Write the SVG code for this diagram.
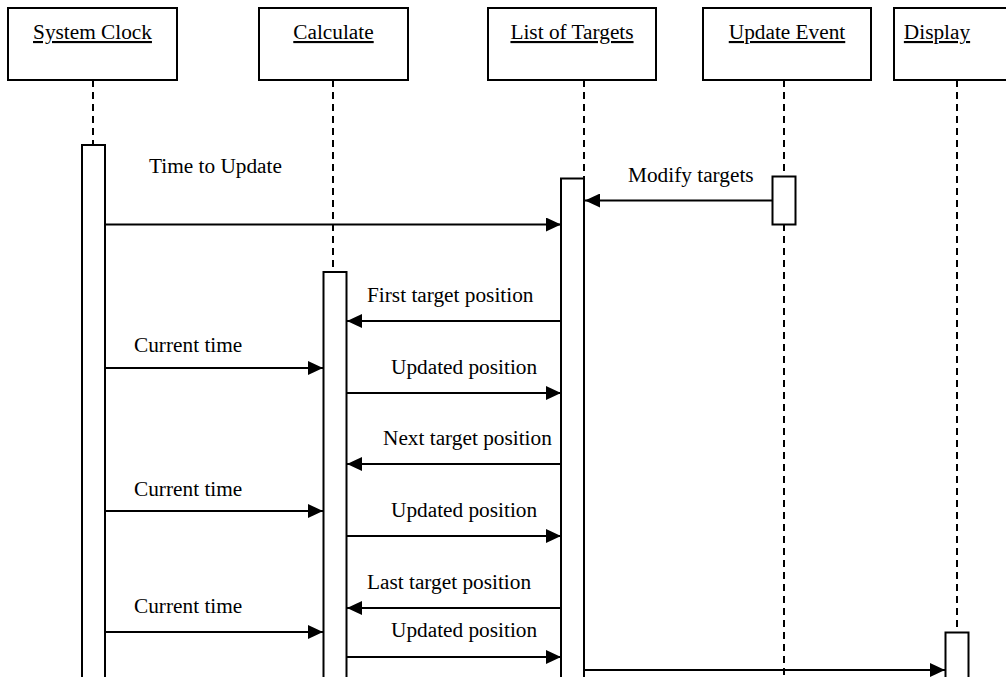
<svg xmlns="http://www.w3.org/2000/svg" width="1006" height="677" viewBox="0 0 1006 677">
<style>
.box{fill:#fff;stroke:#000;stroke-width:2}
.act{fill:#fff;stroke:#000;stroke-width:2}
.life{stroke:#000;stroke-width:2;stroke-dasharray:7 5;fill:none}
.msg{stroke:#000;stroke-width:1.8;fill:none;marker-end:url(#ah)}
text{font-family:"Liberation Serif","Times New Roman",serif;font-size:21.3px;fill:#000}
.name{text-anchor:middle;text-decoration:underline}
</style>
<defs>
<marker id="ah" markerWidth="16" markerHeight="14" refX="15" refY="7" orient="auto" markerUnits="userSpaceOnUse">
<path d="M0,0 L15,7 L0,14 Z" fill="#000"/>
</marker>
</defs>
<rect width="1006" height="677" fill="#fff"/>
<g id="lifelines">
<line class="life" x1="93" y1="80" x2="93" y2="145"/>
<line class="life" x1="333" y1="80" x2="333" y2="272"/>
<line class="life" x1="584" y1="80" x2="584" y2="178"/>
<line class="life" x1="784" y1="80" x2="784" y2="677"/>
<line class="life" x1="957" y1="80" x2="957" y2="632"/>
</g>
<g id="n-system-clock">
<rect class="box" x="8" y="8" width="169" height="72"/>
<text class="name" x="92.5" y="39">System Clock</text>
<rect class="act" x="82" y="145" width="23" height="560"/>
</g>
<g id="n-calculate">
<rect class="box" x="259" y="8" width="149" height="72"/>
<text class="name" x="333.5" y="39">Calculate</text>
<rect class="act" x="323.5" y="272" width="23" height="440"/>
</g>
<g id="n-list-of-targets">
<rect class="box" x="488" y="8" width="168" height="72"/>
<text class="name" x="572" y="39">List of Targets</text>
<rect class="act" x="561" y="178.5" width="23" height="530"/>
</g>
<g id="n-update-event">
<rect class="box" x="703" y="8" width="168" height="72"/>
<text class="name" x="787" y="39">Update Event</text>
<rect class="act" x="772.5" y="176.5" width="23" height="48"/>
</g>
<g id="n-display">
<rect class="box" x="894" y="8" width="140" height="72"/>
<text class="name" x="937" y="39">Display</text>
<rect class="act" x="945.5" y="632.5" width="23" height="80"/>
</g>
<g id="connectors">
<line class="msg" x1="105" y1="224.5" x2="561" y2="224.5"/>
<text x="149" y="173">Time to Update</text>
<line class="msg" x1="772" y1="200.5" x2="585" y2="200.5"/>
<text x="628" y="182">Modify targets</text>
<line class="msg" x1="561" y1="321" x2="347" y2="321"/>
<text x="367" y="302">First target position</text>
<line class="msg" x1="105" y1="368" x2="323" y2="368"/>
<text x="134" y="352">Current time</text>
<line class="msg" x1="347" y1="393" x2="561" y2="393"/>
<text x="391" y="374">Updated position</text>
<line class="msg" x1="561" y1="464" x2="347" y2="464"/>
<text x="383" y="445">Next target position</text>
<line class="msg" x1="105" y1="511" x2="323" y2="511"/>
<text x="134" y="496">Current time</text>
<line class="msg" x1="347" y1="536" x2="561" y2="536"/>
<text x="391" y="517">Updated position</text>
<line class="msg" x1="561" y1="608" x2="347" y2="608"/>
<text x="367" y="589">Last target position</text>
<line class="msg" x1="105" y1="632" x2="323" y2="632"/>
<text x="134" y="613">Current time</text>
<line class="msg" x1="347" y1="657" x2="561" y2="657"/>
<text x="391" y="637">Updated position</text>
<line class="msg" x1="585" y1="670" x2="945" y2="670"/>
</g>
</svg>
